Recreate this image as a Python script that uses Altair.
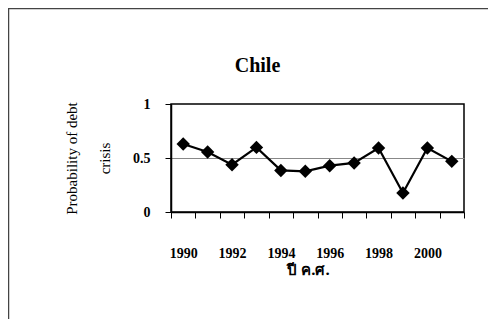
import altair as alt
import pandas as pd

years = ["1990", "1991", "1992", "1993", "1994", "1995",
         "1996", "1997", "1998", "1999", "2000", "2001"]
prob = [0.63, 0.556, 0.438, 0.598, 0.385, 0.377,
        0.429, 0.454, 0.593, 0.176, 0.593, 0.469]
y_ticks = [0, 0.5, 1]

df = pd.DataFrame({"year": years, "prob": prob})

W, H = 293, 108
SERIF = "Liberation Serif"

x_enc = alt.X(
    "year:O",
    sort=years,
    scale=alt.Scale(type="band", paddingInner=0, paddingOuter=0),
    axis=alt.Axis(
        title="ปี ค.ศ.",
        tickBand="extent",
        labelExpr="toNumber(datum.value) % 2 == 0 ? datum.label : ''",
        labelAngle=0,
        tickSize=6,
        tickColor="black",
        domainColor="black",
        domainWidth=1.5,
        labelPadding=28,
        labelFont=SERIF,
        labelFontSize=14,
        labelFontWeight="bold",
        labelColor="black",
        grid=False,
        titleX=137,
        titleY=57,
        titleAlign="center",
        titleBaseline="middle",
        titleFont="Noto Sans",
        titleFontSize=15,
        titleFontWeight="bold",
        titleColor="black",
    ),
)

y_enc = alt.Y(
    "prob:Q",
    scale=alt.Scale(domain=[0, 1]),
    axis=alt.Axis(
        title=["Probability of debt", "crisis"],
        values=y_ticks,
        labelExpr="toString(datum.value)",
        tickSize=6,
        tickColor="black",
        domainColor="black",
        domainWidth=1.5,
        labelPadding=15,
        labelFont=SERIF,
        labelFontSize=14,
        labelFontWeight="bold",
        labelColor="black",
        grid=True,
        gridColor="#888888",
        gridWidth=1,
        gridOpacity=alt.condition("datum.value == 0.5", alt.value(1), alt.value(0)),
        titleAngle=270,
        titleX=-100,
        titleY=54,
        titleAlign="center",
        titleBaseline="middle",
        titleLineHeight=33,
        titleFont=SERIF,
        titleFontSize=15,
        titleFontWeight="normal",
        titleColor="black",
    ),
)

frame_data = alt.Data(values=[{"k": 1}])
top_line = alt.Chart(frame_data).mark_rule(color="#444444", strokeWidth=1.5).encode(
    x=alt.value(-163), x2=alt.value(340),
    y=alt.value(-95.5),
)
left_line = alt.Chart(frame_data).mark_rule(color="#444444", strokeWidth=1.5).encode(
    x=alt.value(-162.5),
    y=alt.value(-96), y2=alt.value(240),
)

base = alt.Chart(df).encode(x=x_enc, y=y_enc)
line = base.mark_line(color="black", strokeWidth=2.2)
points = base.mark_point(shape="diamond", filled=True, color="black", size=180, opacity=1)

chart = alt.layer(top_line, left_line, line, points).properties(
    width=W,
    height=H,
    autosize=alt.AutoSizeParams(type="none"),
    padding={"left": 163, "top": 96, "right": 24, "bottom": 107},
    title=alt.TitleParams(
        "Chile", font=SERIF, fontSize=20, fontWeight="bold", color="black",
        anchor="middle", frame="group", dx=-60, offset=-85, baseline="alphabetic",
    ),
    background="white",
).configure_view(stroke="black", strokeWidth=1.5, fill="white")

chart.save("out.html", embed_options={"renderer": "svg", "actions": False})
